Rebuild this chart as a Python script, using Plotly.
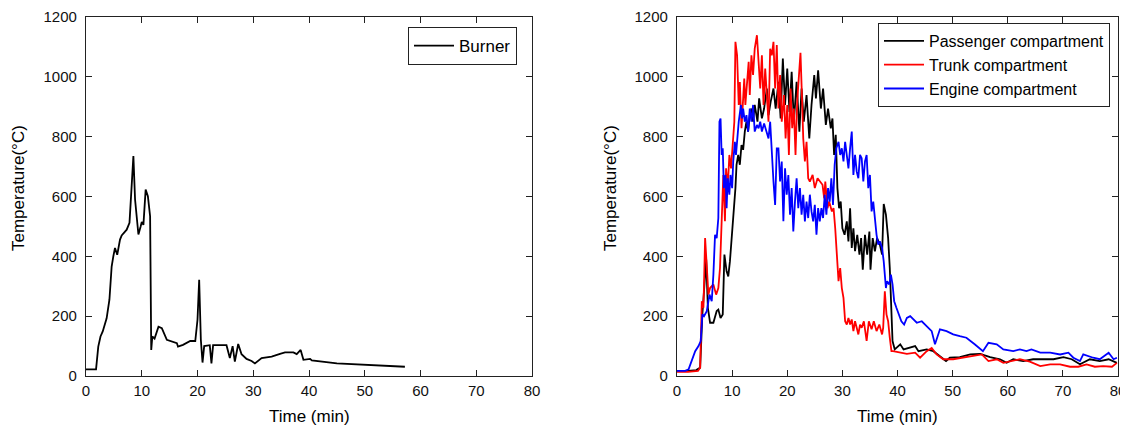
import plotly.graph_objects as go

# Burner (left panel)
burner_t = [0, 1.8, 2.2, 2.6, 3.0, 3.7, 4.2, 4.6, 4.9, 5.2, 5.6, 6.1, 6.4, 7.3, 7.8, 8.2, 8.5, 8.8,
            9.4, 9.8, 10.0, 10.3, 10.7, 11.1, 11.5, 11.7, 11.9, 12.3, 13.0, 13.6, 14.5, 16.3, 16.5,
            17.4, 18.7, 19.6, 20.0, 20.3, 20.6, 20.9, 21.2, 22.2, 22.5, 22.8, 25.2, 25.8, 26.3,
            26.7, 27.3, 27.9, 28.8, 29.7, 30.3, 31.5, 33.3, 34.8, 35.7, 37.2, 37.8, 38.5, 39.0,
            40.2, 40.5, 45.0, 50.9, 57.2]
burner_T = [22, 22, 98, 132, 149, 193, 255, 366, 400, 428, 405, 456, 470, 489, 512, 657, 735, 590,
            473, 500, 515, 505, 623, 601, 534, 87, 132, 125, 165, 160, 121, 110, 98,
            104, 117, 117, 188, 322, 121, 45, 100, 103, 42, 103, 103, 60, 100,
            48, 107, 73, 57, 50, 42, 60, 65, 74, 79, 79, 73, 87, 54,
            57, 52, 42, 36, 31]

# Passenger compartment (right panel, black)
pass_t = [0, 2.0, 3.5, 4.2, 4.6, 5.3, 5.6, 6.0, 6.6, 7.2, 7.5, 7.9, 8.3, 8.6, 9.0, 9.3, 9.6, 10.0,
          10.3, 10.6, 10.8, 11.1, 11.4, 11.7, 12.0, 12.3, 12.6, 12.9, 13.2, 13.5, 13.8, 14.1, 14.6,
          14.9, 15.4, 15.8, 16.3, 16.6, 17.0, 17.5, 17.9, 18.4, 18.8, 19.2, 19.6, 20.0, 20.4, 20.8,
          21.2, 21.7, 22.2, 22.6, 23.0, 23.5, 24.0, 24.4, 24.9, 25.2, 25.6, 26.1, 26.5, 27.0, 27.4,
          27.9, 28.2, 28.5, 28.8, 29.1, 29.4, 29.7, 30.0, 30.4, 30.8, 31.1, 31.4, 31.7, 32.0, 32.3,
          32.7, 33.1, 33.4, 33.7, 34.1, 34.5, 34.9, 35.1, 35.5, 35.9, 36.3, 36.8, 37.2, 37.5, 37.9,
          38.3, 38.6, 38.9, 39.1, 39.5, 40.5, 41.1, 42.3, 43.2, 43.8, 45.3, 46.5, 47.7, 48.8, 49.5,
          51.3, 53.2, 55.0, 56.8, 58.6, 59.8, 61.0, 62.8, 64.6, 66.5, 68.3, 70.1, 71.6, 73.1, 74.9,
          76.7, 78.3, 79.8]
pass_T = [17, 17, 20, 28, 206, 389, 228, 178, 178, 217, 222, 194, 206, 406, 350, 333, 383, 472,
          539, 628, 706, 739, 706, 772, 756, 817, 850, 817, 872, 894, 850, 906, 850,
          928, 861, 894, 961, 872, 917, 961, 894, 983, 861, 1061, 906, 1028, 883, 1017,
          850, 983, 817, 961, 850, 939, 794, 906, 1006, 928, 1022, 894, 961, 839, 894,
          828, 861, 739, 806, 628, 561, 583, 494, 472, 517, 450, 561, 428, 494, 417,
          472, 406, 461, 355, 472, 406, 483, 355, 461, 417, 461, 439, 406, 575, 539,
          461, 361, 206, 117, 89, 106, 89, 94, 100, 83, 89, 83, 67, 50, 61,
          63, 72, 74, 63, 56, 44, 56, 50, 56, 56, 56, 63, 56, 39, 56,
          50, 56, 44]

# Trunk compartment (right panel, red)
trunk_t = [0, 2.0, 3.8, 4.2, 4.5, 4.8, 5.1, 5.4, 5.7, 6.0, 6.6, 7.1, 7.5, 7.8, 8.1, 8.4, 8.7, 8.9,
           9.2, 9.5, 9.8, 10.1, 10.4, 10.6, 10.9, 11.2, 11.4, 11.7, 11.9, 12.2, 12.4, 12.6, 13.0,
           13.2, 13.5, 13.8, 14.1, 14.5, 14.8, 15.1, 15.4, 15.7, 16.0, 16.3, 16.6, 16.9, 17.2,
           17.5, 17.8, 18.1, 18.4, 18.7, 19.0, 19.4, 19.7, 20.0, 20.3, 20.6, 20.9, 21.2, 21.5,
           21.8, 22.2, 22.4, 22.7, 22.9, 23.2, 23.5, 23.8, 24.1, 24.6, 25.0, 25.5, 25.9, 26.4,
           26.7, 26.9, 27.3, 27.6, 28.1, 28.4, 28.7, 29.0, 29.3, 29.6, 29.9, 30.2, 30.5, 30.8,
           31.1, 31.4, 31.7, 32.0, 32.3, 32.6, 32.9, 33.2, 33.5, 33.9, 34.4, 34.8, 35.3, 35.7,
           36.2, 36.7, 37.2, 37.4, 37.7, 38.0, 38.3, 38.6, 38.9, 39.2, 40.5, 41.7, 43.2, 44.1,
           45.3, 46.2, 47.1, 48.3, 50.1, 51.9, 53.8, 55.3, 56.5, 58.0, 59.2, 60.7, 62.2, 64.0,
           65.9, 67.7, 69.5, 71.3, 72.8, 74.3, 75.8, 77.3, 78.9, 79.8]
trunk_T = [14, 14, 17, 28, 250, 228, 461, 339, 272, 294, 306, 272, 294, 361, 561, 672, 517, 694,
           628, 739, 694, 783, 850, 1117, 1072, 906, 983, 828, 917, 994, 906, 961, 1050,
           939, 1072, 1006, 1094, 1139, 1039, 961, 1072, 906, 1028, 939, 850, 1094, 1072,
           1117, 961, 1106, 894, 1006, 850, 939, 794, 906, 739, 961, 828, 894, 739,
           917, 1050, 1080, 917, 794, 717, 783, 661, 650, 672, 628, 661, 650, 639,
           594, 650, 561, 583, 550, 561, 494, 383, 317, 361, 294, 261, 183, 172,
           194, 172, 189, 150, 183, 161, 139, 172, 161, 183, 117, 183, 156, 183,
           150, 172, 139, 161, 283, 206, 183, 128, 83, 83, 78, 74, 78, 61,
           83, 94, 72, 56, 56, 61, 67, 72, 50, 56, 44, 50, 56, 48,
           33, 39, 39, 31, 31, 39, 31, 33, 31, 44]

# Engine compartment (right panel, blue)
engine_t = [0, 1.5, 2.1, 2.7, 3.3, 3.9, 4.3, 4.6, 4.9, 5.4, 5.9, 6.3, 6.6, 6.9, 7.2, 7.5, 7.7, 7.9,
            8.1, 8.3, 8.5, 8.8, 9.0, 9.2, 9.5, 9.7, 10.0, 10.2, 10.5, 10.7, 11.0, 11.2, 11.6, 11.8,
            12.0, 12.3, 12.6, 12.9, 13.2, 13.5, 13.8, 14.1, 14.5, 14.8, 15.1, 15.4, 15.8, 16.1,
            16.6, 16.9, 17.2, 17.5, 17.8, 18.1, 18.4, 18.7, 19.0, 19.3, 19.6, 19.9, 20.2, 20.5,
            20.8, 21.1, 21.4, 21.7, 22.0, 22.3, 22.6, 22.9, 23.2, 23.5, 23.8, 24.1, 24.4, 24.7,
            25.0, 25.3, 25.6, 25.9, 26.2, 26.5, 26.8, 27.1, 27.4, 27.7, 28.0, 28.3, 28.6, 28.9,
            29.3, 29.6, 29.9, 30.2, 30.5, 30.8, 31.1, 31.4, 31.7, 32.0, 32.3, 32.6, 32.9, 33.2,
            33.5, 33.8, 34.1, 34.4, 34.7, 35.0, 35.3, 35.6, 35.9, 36.2, 36.5, 36.8, 37.2, 37.5,
            37.9, 38.1, 38.5, 38.8, 39.1, 39.4, 39.8, 40.3, 40.7, 41.2, 41.7, 42.3, 43.5, 44.4,
            45.3, 46.2, 46.8, 47.7, 48.9, 50.1, 51.3, 52.5, 54.0, 55.5, 56.5, 58.0, 59.2, 61.0,
            62.2, 63.4, 64.3, 65.9, 67.7, 69.5, 71.0, 71.9, 73.1, 73.7, 75.5, 76.7, 78.3, 79.2, 79.8]
engine_T = [17, 17, 22, 50, 83, 100, 117, 206, 200, 217, 272, 250, 339, 472, 461, 528, 850, 861,
            739, 761, 628, 672, 561, 661, 606, 672, 628, 717, 783, 739, 806, 850, 906, 861,
            894, 850, 872, 817, 894, 850, 906, 817, 839, 828, 850, 817, 844, 828,
            794, 850, 739, 650, 572, 761, 761, 650, 717, 517, 694, 606, 672, 539,
            628, 483, 583, 661, 561, 628, 539, 606, 517, 583, 528, 606, 550, 517,
            572, 472, 561, 517, 561, 528, 606, 539, 628, 583, 661, 572, 706, 761,
            783, 739, 761, 717, 783, 739, 694, 761, 817, 672, 739, 683, 661, 739,
            728, 650, 717, 739, 628, 672, 550, 583, 517, 472, 439, 450, 428, 383,
            294, 317, 306, 339, 306, 250, 228, 206, 183, 172, 194, 200, 178, 183,
            167, 150, 106, 156, 150, 139, 133, 128, 106, 83, 111, 106, 89, 83,
            89, 83, 89, 78, 78, 72, 78, 61, 50, 72, 61, 56, 78, 56, 61]

FONT = "Liberation Sans, Arial, sans-serif"

# page has an 8px body margin, so work in screen pixels and shift by it
OFF = 8
W, H = 1120, 422


def px(x):
    return (x - OFF) / W


def py(y):
    return 1 - (y - OFF) / H


fig = go.Figure()
fig.add_trace(go.Scatter(x=burner_t, y=burner_T, mode="lines", name="Burner",
                         line=dict(color="black", width=1.8), xaxis="x", yaxis="y", legend="legend"))
fig.add_trace(go.Scatter(x=pass_t, y=pass_T, mode="lines", name="Passenger compartment",
                         line=dict(color="black", width=1.8), xaxis="x2", yaxis="y2", legend="legend2"))
fig.add_trace(go.Scatter(x=trunk_t, y=trunk_T, mode="lines", name="Trunk compartment",
                         line=dict(color="#ff0000", width=1.8), xaxis="x2", yaxis="y2", legend="legend2"))
fig.add_trace(go.Scatter(x=engine_t, y=engine_T, mode="lines", name="Engine compartment",
                         line=dict(color="#0000ff", width=1.8), xaxis="x2", yaxis="y2", legend="legend2"))

ax_common = dict(showline=True, linecolor="#222", linewidth=1.2, mirror="ticks", ticks="inside",
                 ticklen=6, tickcolor="#222", tickwidth=1.2, showgrid=False, zeroline=False,
                 tickfont=dict(family=FONT, size=15, color="#111"), automargin=False)
xa = dict(ax_common, range=[0, 80], tickmode="array", tickvals=list(range(0, 81, 10)), ticklabelstandoff=1)
ya = dict(ax_common, range=[0, 1200], tickmode="array", tickvals=list(range(0, 1201, 200)), ticklabelstandoff=5)

y_dom = [py(376), py(17)]
fig.update_layout(
    width=W, height=H,
    margin=dict(l=0, r=0, t=0, b=0),
    paper_bgcolor="white", plot_bgcolor="white",
    font=dict(family=FONT, color="black"),
    xaxis=dict(xa, domain=[px(86), px(532)], anchor="y"),
    yaxis=dict(ya, domain=y_dom, anchor="x"),
    xaxis2=dict(xa, domain=[px(677), px(1118)], anchor="y2"),
    yaxis2=dict(ya, domain=y_dom, anchor="x2"),
    legend=dict(x=px(517), y=py(27), xanchor="right", yanchor="top", bgcolor="white",
                bordercolor="#222", borderwidth=1, font=dict(family=FONT, size=17), itemwidth=40),
    legend2=dict(x=px(1110), y=py(23), xanchor="right", yanchor="top", bgcolor="white",
                 bordercolor="#222", borderwidth=1, font=dict(family=FONT, size=16),
                 tracegroupgap=0, itemwidth=40),
    showlegend=True,
)

titles = [
    dict(text="Time (min)", x=px(309), y=py(416), textangle=0),
    dict(text="Time (min)", x=px(897), y=py(416), textangle=0),
    dict(text="Temperature(\u00b0C)", x=px(19), y=py(188), textangle=-90),
    dict(text="Temperature(\u00b0C)", x=px(611), y=py(188), textangle=-90),
]
for t in titles:
    fig.add_annotation(text=t["text"], x=t["x"], y=t["y"], xref="paper", yref="paper",
                       xanchor="center", yanchor="middle", showarrow=False, textangle=t["textangle"],
                       font=dict(family=FONT, size=17, color="black"))

fig.write_html("out.html")
